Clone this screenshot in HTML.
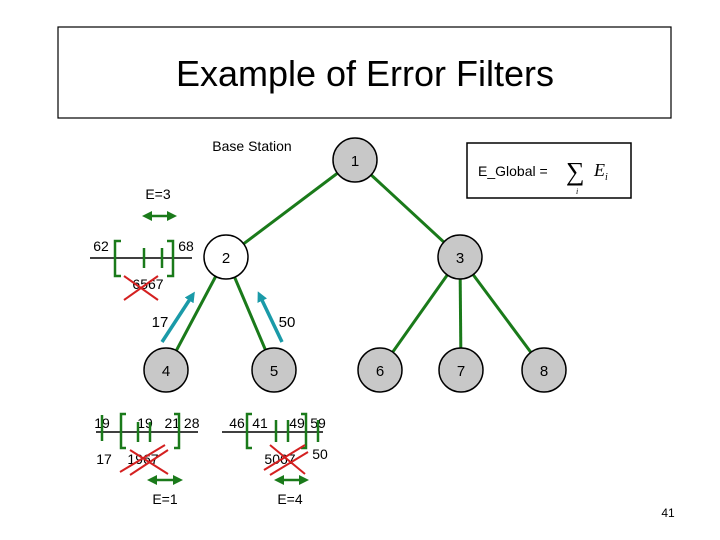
<!DOCTYPE html>
<html><head><style>body{margin:0;background:#fff}svg{display:block}</style></head>
<body>
<svg width="720" height="540" viewBox="0 0 720 540" xmlns="http://www.w3.org/2000/svg" font-family="Liberation Sans, sans-serif">
<defs>
<marker id="g" viewBox="0 0 10 10" refX="5" refY="5" markerWidth="4" markerHeight="4" orient="auto-start-reverse"><path d="M0,0L10,5L0,10z" fill="#1a7a1a"/></marker>
<marker id="c" viewBox="0 0 10 10" refX="5" refY="5" markerWidth="3" markerHeight="3" orient="auto"><path d="M0,0L10,5L0,10z" fill="#1a9aa8"/></marker>
</defs>
<rect x="58" y="27" width="613" height="91" fill="none" stroke="#000" stroke-width="1.2"/>
<text x="365" y="86" font-size="36" text-anchor="middle">Example of Error Filters</text>
<text x="252" y="151" font-size="14" text-anchor="middle">Base Station</text>
<rect x="467" y="143" width="164" height="55" fill="none" stroke="#000" stroke-width="1.5"/>
<text x="478" y="176" font-size="14">E_Global =</text>
<text x="566" y="180" font-size="26" font-family="Liberation Serif, serif">∑</text>
<text x="594" y="176" font-size="18" font-style="italic" font-family="Liberation Serif, serif">E<tspan font-size="10" dy="4">i</tspan></text>
<text x="576" y="194" font-size="8" font-style="italic" font-family="Liberation Serif, serif">i</text>
<g stroke="#1a7a1a" stroke-width="3">
<line x1="355" y1="160" x2="226" y2="257"/><line x1="355" y1="160" x2="460" y2="257"/>
<line x1="226" y1="257" x2="166" y2="370"/><line x1="226" y1="257" x2="274" y2="370"/>
<line x1="460" y1="257" x2="380" y2="370"/><line x1="460" y1="257" x2="461" y2="370"/><line x1="460" y1="257" x2="544" y2="370"/>
</g>
<g stroke="#1a9aa8" stroke-width="3.5">
<line x1="162" y1="342" x2="192" y2="296" marker-end="url(#c)"/>
<line x1="282" y1="342" x2="260" y2="296" marker-end="url(#c)"/>
</g>
<g stroke="#000" stroke-width="1.5" fill="#c8c8c8">
<circle cx="355" cy="160" r="22"/><circle cx="226" cy="257" r="22" fill="#fff"/><circle cx="460" cy="257" r="22"/>
<circle cx="166" cy="370" r="22"/><circle cx="274" cy="370" r="22"/>
<circle cx="380" cy="370" r="22"/><circle cx="461" cy="370" r="22"/><circle cx="544" cy="370" r="22"/>
</g>
<g font-size="15" text-anchor="middle">
<text x="355" y="166">1</text><text x="226" y="263">2</text><text x="460" y="263">3</text>
<text x="166" y="376">4</text><text x="274" y="376">5</text><text x="380" y="376">6</text><text x="461" y="376">7</text><text x="544" y="376">8</text>
<text x="160" y="327">17</text><text x="287" y="327">50</text>
</g>
<g font-size="14" text-anchor="middle">
<text x="158" y="199">E=3</text><text x="101" y="251">62</text><text x="186" y="251">68</text><text x="148" y="289">6567</text>
<text x="182" y="428">21 28</text><text x="145" y="428">19</text><text x="102" y="428">19</text><text x="104" y="464">17</text><text x="143" y="464">1967</text><text x="165" y="504">E=1</text>
<text x="237" y="428">46</text><text x="260" y="428">41</text><text x="297" y="428">49</text><text x="318" y="428">59</text><text x="320" y="459">50</text><text x="280" y="464">5067</text><text x="290" y="504">E=4</text>
<text x="668" y="517" font-size="12">41</text>
</g>
<g stroke="#000" stroke-width="1.5">
<line x1="90" y1="258" x2="192" y2="258"/><line x1="96" y1="432" x2="198" y2="432"/><line x1="222" y1="432" x2="323" y2="432"/>
</g>
<g stroke="#1a7a1a" stroke-width="2.5" fill="none">
<path d="M121,241H115V276H121"/><path d="M167,241H173V276H167"/>
<line x1="144" y1="248" x2="144" y2="268"/><line x1="162" y1="248" x2="162" y2="268"/>
<line x1="147" y1="216" x2="172" y2="216" marker-start="url(#g)" marker-end="url(#g)"/>
<path d="M126,414H121V448H126"/><path d="M174,414H179V448H174"/>
<line x1="102" y1="415" x2="102" y2="441"/><line x1="138" y1="422" x2="138" y2="442"/><line x1="150" y1="422" x2="150" y2="442"/>
<line x1="152" y1="480" x2="178" y2="480" marker-start="url(#g)" marker-end="url(#g)"/>
<path d="M252,414H247V448H252"/><path d="M301,414H306V448H301"/>
<line x1="276" y1="420" x2="276" y2="442"/><line x1="288" y1="420" x2="288" y2="442"/><line x1="318" y1="420" x2="318" y2="442"/>
<line x1="279" y1="480" x2="304" y2="480" marker-start="url(#g)" marker-end="url(#g)"/>
</g>
<g stroke="#d42020" stroke-width="2">
<line x1="124" y1="276" x2="158" y2="300"/><line x1="124" y1="300" x2="158" y2="276"/>
<line x1="120" y1="472" x2="165" y2="445"/><line x1="130" y1="475" x2="168" y2="450"/><line x1="130" y1="450" x2="168" y2="474"/>
<line x1="264" y1="470" x2="305" y2="445"/><line x1="270" y1="475" x2="308" y2="452"/><line x1="270" y1="445" x2="305" y2="474"/>
</g>
</svg>
</body></html>
